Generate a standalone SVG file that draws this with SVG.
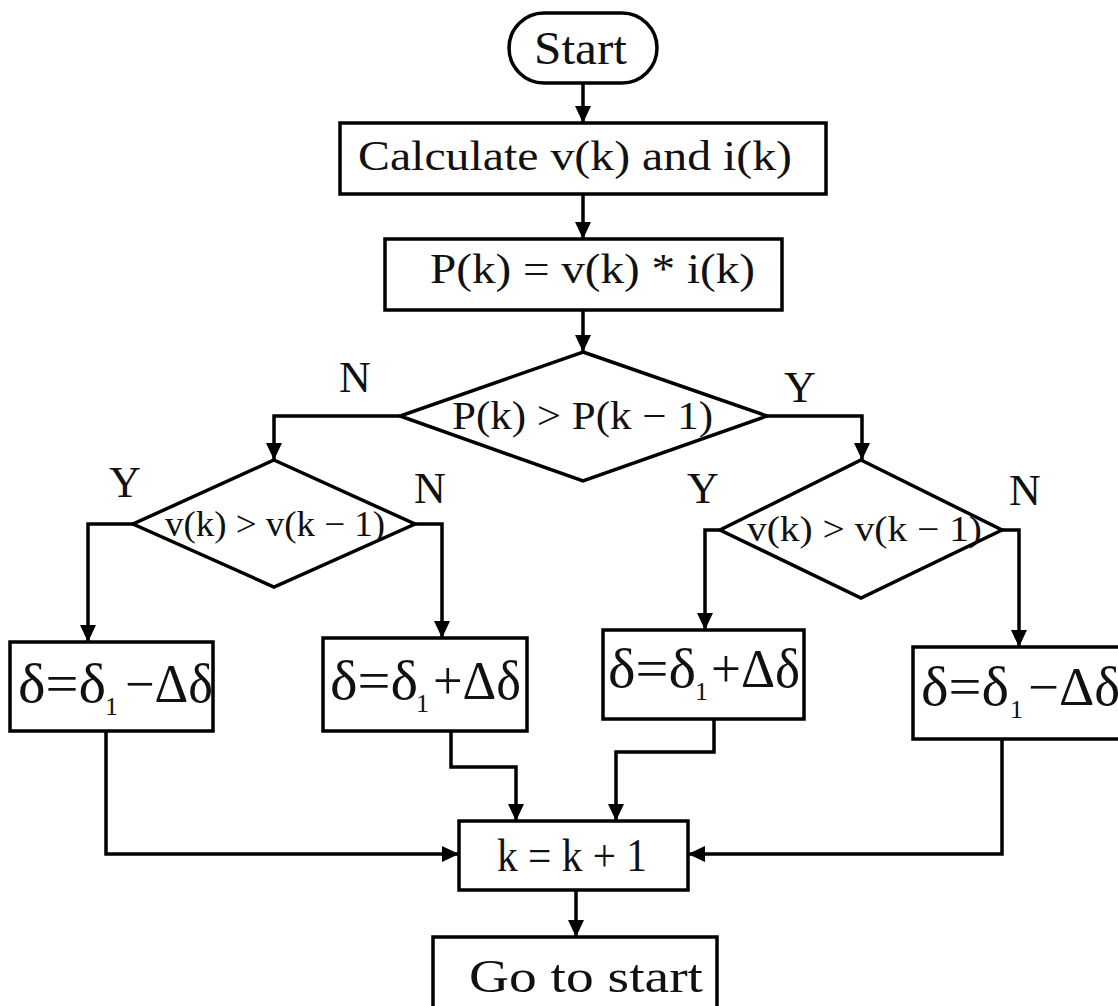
<svg xmlns="http://www.w3.org/2000/svg" width="1118" height="1006" viewBox="0 0 1118 1006">
<style>
.shape{fill:#fff;stroke:#000;stroke-width:3.5}
.conn{fill:none;stroke:#000;stroke-width:3.5}
text{font-family:"Liberation Serif","Times New Roman",serif;fill:#111}
.lbl{font-size:44px}
.d{font-size:54px}
.sub{font-size:26px}
</style>
<defs>
<marker id="ah" markerUnits="userSpaceOnUse" markerWidth="18" markerHeight="16" refX="17" refY="8" orient="auto">
<path d="M0,0 L17,8 L0,16 z" fill="#000"/>
</marker>
</defs>
<rect width="1118" height="1006" fill="#fff"/>

<g id="connectors">
<path class="conn" d="M583,83 V123" marker-end="url(#ah)"/>
<path class="conn" d="M583,194 V239" marker-end="url(#ah)"/>
<path class="conn" d="M583,310 V352" marker-end="url(#ah)"/>
<path class="conn" d="M400,416 H274 V460" marker-end="url(#ah)"/>
<path class="conn" d="M767,416 H862 V460" marker-end="url(#ah)"/>
<path class="conn" d="M133,524 H88 V642" marker-end="url(#ah)"/>
<path class="conn" d="M415,524 H442 V638" marker-end="url(#ah)"/>
<path class="conn" d="M720,530 H705 V630" marker-end="url(#ah)"/>
<path class="conn" d="M1002,530 H1019 V647" marker-end="url(#ah)"/>
<path class="conn" d="M106,731 V854 H459" marker-end="url(#ah)"/>
<path class="conn" d="M451,731 V767 H516 V821" marker-end="url(#ah)"/>
<path class="conn" d="M714,719 V752 H616 V821" marker-end="url(#ah)"/>
<path class="conn" d="M1002,739 V854 H688" marker-end="url(#ah)"/>
<path class="conn" d="M576,890 V937" marker-end="url(#ah)"/>
<text class="lbl" x="339" y="392">N</text>
<text class="lbl" x="784" y="402">Y</text>
<text class="lbl" x="109" y="497">Y</text>
<text class="lbl" x="414" y="503">N</text>
<text class="lbl" x="687" y="503">Y</text>
<text class="lbl" x="1009" y="505">N</text>
</g>

<g id="start">
<rect class="shape" x="509" y="13" width="148" height="70" rx="35"/>
<text x="534" y="64" font-size="46" textLength="93" lengthAdjust="spacingAndGlyphs">Start</text>
</g>

<g id="calculate">
<rect class="shape" x="340" y="123" width="486" height="71"/>
<text x="358" y="170" font-size="42" textLength="434" lengthAdjust="spacingAndGlyphs">Calculate v(k) and i(k)</text>
</g>

<g id="power">
<rect class="shape" x="385" y="239" width="397" height="71"/>
<text x="430" y="283" font-size="42" textLength="325" lengthAdjust="spacingAndGlyphs">P(k) = v(k) * i(k)</text>
</g>

<g id="decision-p">
<polygon class="shape" points="583,352 767,416 583,481 400,416"/>
<text x="452" y="429" font-size="40" textLength="261" lengthAdjust="spacingAndGlyphs">P(k) &gt; P(k − 1)</text>
</g>

<g id="decision-v-left">
<polygon class="shape" points="274,460 415,524 274,587 133,524"/>
<text x="165" y="536" font-size="36" textLength="220" lengthAdjust="spacingAndGlyphs">v(k) &gt; v(k − 1)</text>
</g>

<g id="decision-v-right">
<polygon class="shape" points="861,460 1002,530 861,598 720,530"/>
<text x="747" y="541" font-size="36" textLength="235" lengthAdjust="spacingAndGlyphs">v(k) &gt; v(k − 1)</text>
</g>

<g id="box-a">
<rect class="shape" x="10" y="642" width="203" height="89"/>
<text class="d" x="18" y="702" textLength="88" lengthAdjust="spacingAndGlyphs">δ=δ</text>
<text class="sub" x="105" y="715">1</text>
<text class="d" x="125" y="702" textLength="88" lengthAdjust="spacingAndGlyphs">−Δδ</text>
</g>

<g id="box-b">
<rect class="shape" x="323" y="638" width="204" height="93"/>
<text class="d" x="330" y="699" textLength="88" lengthAdjust="spacingAndGlyphs">δ=δ</text>
<text class="sub" x="416" y="712">1</text>
<text class="d" x="433" y="699" textLength="88" lengthAdjust="spacingAndGlyphs">+Δδ</text>
</g>

<g id="box-c">
<rect class="shape" x="603" y="630" width="201" height="89"/>
<text class="d" x="608" y="687" textLength="88" lengthAdjust="spacingAndGlyphs">δ=δ</text>
<text class="sub" x="695" y="700">1</text>
<text class="d" x="711" y="687" textLength="89" lengthAdjust="spacingAndGlyphs">+Δδ</text>
</g>

<g id="box-d">
<rect class="shape" x="913" y="647" width="215" height="92"/>
<text class="d" x="921" y="705" textLength="88" lengthAdjust="spacingAndGlyphs">δ=δ</text>
<text class="sub" x="1010" y="718">1</text>
<text class="d" x="1028" y="705" textLength="92" lengthAdjust="spacingAndGlyphs">−Δδ</text>
</g>

<g id="increment">
<rect class="shape" x="459" y="821" width="229" height="69"/>
<text x="497" y="871" font-size="46" textLength="150" lengthAdjust="spacingAndGlyphs">k = k + 1</text>
</g>

<g id="goto-start">
<rect class="shape" x="433" y="937" width="284" height="80"/>
<text x="469" y="992" font-size="46" textLength="234" lengthAdjust="spacingAndGlyphs">Go to start</text>
</g>
</svg>
